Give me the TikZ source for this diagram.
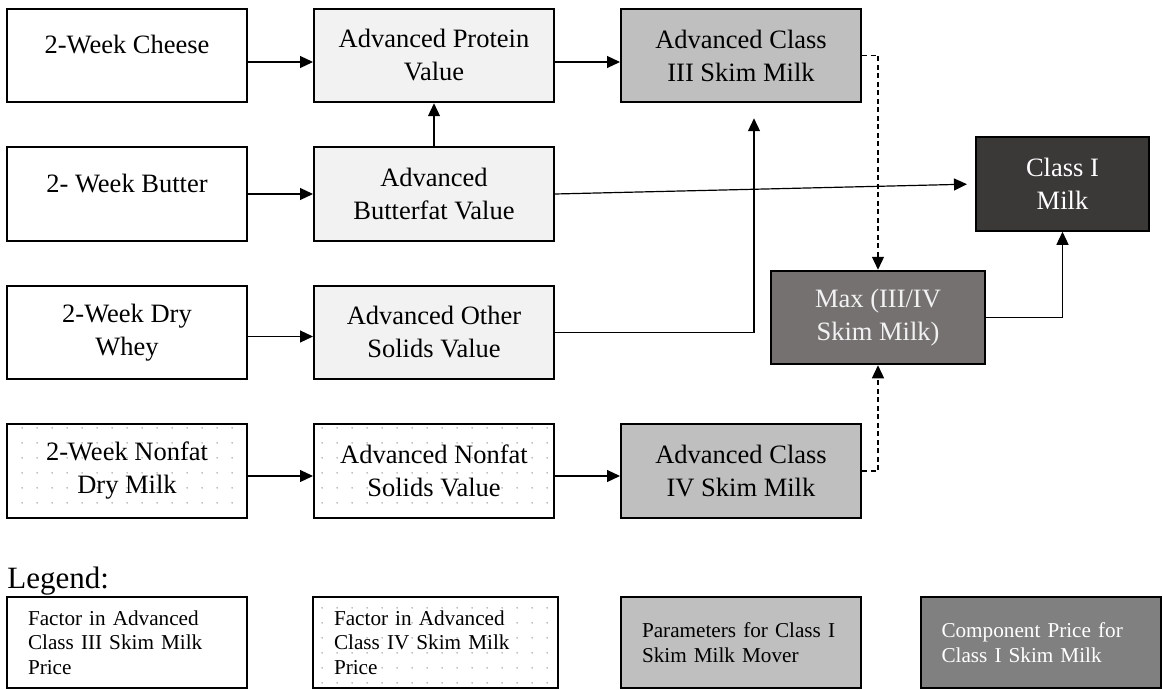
\documentclass[tikz,border=0pt]{standalone}
\usepackage{fontspec}
\setmainfont{Liberation Serif}
\usetikzlibrary{arrows.meta,positioning,patterns.meta}
\definecolor{paleface}{HTML}{F2F2F2}
\definecolor{skimgrey}{HTML}{BFBFBF}
\definecolor{maxgrey}{HTML}{767171}
\definecolor{classdark}{HTML}{3B3838}
\definecolor{keygrey}{HTML}{808080}
\definecolor{dotgrey}{HTML}{ABABAB}

\tikzdeclarepattern{
  name=sparsedots,
  type=colored,
  bottom left={(0pt,0pt)},
  top right={(7.5pt,7.5pt)},
  tile size={(7.5pt,7.5pt)},
  code={\fill[dotgrey] (3.75pt,3.75pt) circle (0.45pt);}
}

\begin{document}
\begin{tikzpicture}[x=0.5pt,y=-0.5pt,>={Triangle[length=6.5pt,width=6pt]},
  node distance=21.5pt and 32.5pt,
  box/.style={draw,line width=1pt,minimum width=120pt,minimum height=46.75pt,
              inner sep=0pt,align=center,font=\fontsize{13.25}{16.5}\selectfont},
  firstline/.style={text depth=11pt},
  dotbox/.style={pattern=sparsedots},
  key/.style={draw,line width=1pt,minimum height=45.5pt,inner xsep=10.5pt,
              text width=99pt,align=left,font=\fontsize{10.6}{12.25}\selectfont},
  link/.style={->,line width=0.6pt},
  dash link/.style={link,dash pattern=on 2.5pt off 1.75pt}]
\useasboundingbox (0,0) rectangle (1163,690);

% price inputs and component values
\node[box,firstline] (cheese) at (127,55.5) {2-Week Cheese};
\node[box,firstline,below=of cheese] (butter) {2- Week Butter};
\node[box,below=of butter] (whey) {2-Week Dry\\Whey};
\node[box,dotbox,below=of whey] (nonfat) {2-Week Nonfat\\Dry Milk};
\node[box,fill=paleface,right=of cheese] (protein) {Advanced Protein\\Value};
\node[box,fill=paleface,right=of butter] (butterfat) {Advanced\\Butterfat Value};
\node[box,fill=paleface,right=of whey] (othersolids) {Advanced Other\\Solids Value};
\node[box,dotbox,right=of nonfat] (nonfatsolids) {Advanced Nonfat\\Solids Value};
\node[box,fill=skimgrey,right=of protein] (classiii) {Advanced Class\\III Skim Milk};
\node[box,fill=skimgrey,right=of nonfatsolids] (classiv) {Advanced Class\\IV Skim Milk};
\node[box,fill=maxgrey,text=paleface,minimum width=107pt] (maxskim) at (878,317.5) {Max (III/IV\\Skim Milk)};
\node[box,fill=classdark,text=white,minimum width=86.5pt] (classone) at (1062.5,184) {Class I\\Milk};

\draw[link] ([yshift=-3.25pt]cheese.east) -- ([yshift=-3.25pt]protein.west);
\draw[link] ([yshift=-3.25pt]protein.east) -- ([yshift=-3.25pt]classiii.west);
\draw[link] (butter) -- (butterfat);
\draw[link] (butterfat) -- (protein);
\draw[link,shorten >=4pt] (butterfat.east) -- (classone.west);
\draw[link] ([yshift=-2pt]whey.east) -- ([yshift=-2pt]othersolids.west);
\draw[link,shorten >=7.5pt] (othersolids.east) -| ([xshift=6.5pt]classiii.south);
\draw[link] ([yshift=-2.5pt]nonfat.east) -- ([yshift=-2.5pt]nonfatsolids.west);
\draw[link] ([yshift=-2.5pt]nonfatsolids.east) -- ([yshift=-2.5pt]classiv.west);
\draw[dash link] (classiii.east) -| (maxskim.north);
\draw[dash link] (classiv.east) -| (maxskim.south);
\draw[link] (maxskim.east) -| (classone.south);

% legend
\node[anchor=base west,inner sep=0pt,font=\fontsize{15.5}{18}\selectfont] (legend) at (7,588) {Legend:};
\node[key] (keyiii) at (127,642.5) {Factor in Advanced\\Class III Skim Milk\\Price};
\node[key,dotbox,text width=101.5pt] (keyiv) at (435.5,642.5) {Factor in Advanced\\Class IV Skim Milk\\Price};
\node[key,fill=skimgrey] (keymover) at (741,642.5) {Parameters for Class I\\Skim Milk Mover};
\node[key,fill=keygrey,text=white] (keyprice) at (1040.5,642.5) {Component Price for\\Class I Skim Milk};
\end{tikzpicture}
\end{document}
